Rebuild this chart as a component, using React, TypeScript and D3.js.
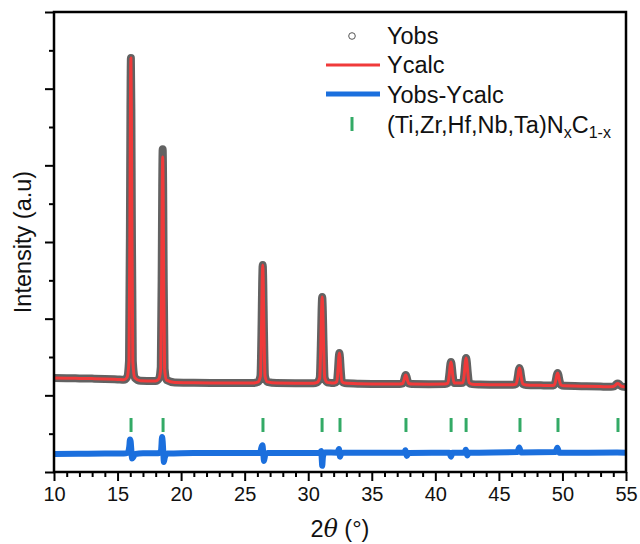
import React, { useEffect, useRef } from 'react'
import { select, scaleLinear, axisBottom, axisLeft, line, curveMonotoneX } from 'd3'

// 2theta grid of the refinement profile (deg)
const twoTheta = [
  10, 11, 12, 13, 14, 15, 15.5,
  15.75, 15.9, 15.975, 16.0125, 16.05, 16.0875, 16.125, 16.2, 16.35,
  16.8, 17.5, 18.0,
  18.25, 18.4, 18.475, 18.5125, 18.55, 18.5875, 18.625, 18.7, 18.85,
  19.5, 21, 23, 25, 25.7,
  26.06, 26.24, 26.33, 26.375, 26.42, 26.465, 26.51, 26.6, 26.78,
  27.5, 29, 30.4,
  30.7, 30.9, 31.0, 31.05, 31.1, 31.15, 31.2, 31.3, 31.5, 31.8,
  32.05, 32.25, 32.35, 32.4, 32.45, 32.5, 32.55, 32.65, 32.85,
  34, 36,
  37.19, 37.43, 37.55, 37.61, 37.67, 37.73, 37.79, 37.91, 38.15,
  39.5,
  40.75, 40.99, 41.11, 41.17, 41.23, 41.29, 41.35, 41.47, 41.82,
  42.18, 42.3, 42.36, 42.42, 42.48, 42.54, 42.66, 42.9,
  43.5, 45,
  46.1, 46.36, 46.49, 46.555, 46.62, 46.685, 46.75, 46.88, 47.14,
  48.3,
  49.1, 49.36, 49.49, 49.555, 49.62, 49.685, 49.75, 49.88, 50.14,
  51.5, 53,
  53.63, 53.99, 54.17, 54.26, 54.35, 54.44, 54.53, 54.71, 55,
]

const yObs = [
  1226, 1224, 1221, 1218, 1214, 1207, 1203,
  1237, 1447, 3297, 4727, 5400, 4727, 3297, 1447, 1230,
  1190, 1188, 1187,
  1216, 1368, 2699, 3726, 4210, 3726, 2699, 1350, 1199,
  1168, 1163, 1162, 1161, 1162,
  1176, 1253, 1931, 2454, 2700, 2454, 1931, 1253, 1176,
  1160, 1159, 1158,
  1169, 1226, 1720, 2103, 2283, 2103, 1720, 1226, 1169, 1162,
  1160, 1180, 1354, 1489, 1552, 1489, 1354, 1180, 1160,
  1152, 1148,
  1148, 1154, 1206, 1246, 1265, 1246, 1206, 1154, 1148,
  1146,
  1148, 1162, 1290, 1389, 1435, 1389, 1290, 1162, 1160,
  1164, 1315, 1432, 1487, 1432, 1315, 1164, 1146,
  1141, 1137,
  1137, 1148, 1246, 1321, 1357, 1321, 1246, 1148, 1136,
  1130,
  1127, 1135, 1208, 1264, 1291, 1264, 1208, 1135, 1124,
  1120, 1114,
  1111, 1114, 1132, 1148, 1155, 1148, 1132, 1114, 1110,
]

const yCalc = [
  1226, 1224, 1221, 1218, 1214, 1207, 1203,
  1237, 1447, 3297, 4727, 5400, 4727, 3297, 1447, 1230,
  1190, 1188, 1187,
  1214, 1360, 2647, 3641, 4109, 3641, 2647, 1345, 1199,
  1168, 1163, 1162, 1161, 1162,
  1176, 1253, 1931, 2454, 2700, 2454, 1931, 1253, 1176,
  1160, 1159, 1158,
  1169, 1226, 1720, 2103, 2283, 2103, 1720, 1226, 1169, 1162,
  1160, 1180, 1354, 1489, 1552, 1489, 1354, 1180, 1160,
  1152, 1148,
  1148, 1154, 1206, 1246, 1265, 1246, 1206, 1154, 1148,
  1146,
  1148, 1162, 1290, 1389, 1435, 1389, 1290, 1162, 1160,
  1164, 1315, 1432, 1487, 1432, 1315, 1164, 1146,
  1141, 1137,
  1137, 1148, 1246, 1321, 1357, 1321, 1246, 1148, 1136,
  1130,
  1127, 1135, 1208, 1264, 1291, 1264, 1208, 1135, 1124,
  1120, 1114,
  1111, 1114, 1132, 1148, 1155, 1148, 1132, 1114, 1110,
]

// difference curve (offset below the pattern)
const diffTheta = [
  10, 12, 14, 15.5, 15.8, 15.92, 15.98, 16.03, 16.08, 16.14, 16.22, 16.4,
  17, 18.2, 18.42, 18.5, 18.55, 18.6, 18.64, 18.72, 18.9,
  20, 24, 26.2, 26.32, 26.4, 26.46, 26.52, 26.62, 26.8,
  30.9, 31.02, 31.07, 31.1, 31.16, 31.3,
  32.3, 32.42, 32.5, 32.6, 32.8,
  37.55, 37.65, 37.75, 37.9,
  41.1, 41.23, 41.35, 42.3, 42.4, 42.5, 42.65,
  46.45, 46.6, 46.75, 49.45, 49.6, 49.75, 54.3, 55,
]
const yDiff = [
  235, 238, 241, 241, 252, 330, 425, 400, 300, 175, 190, 235,
  243, 245, 280, 455, 400, 250, 130, 190, 240,
  246, 248, 248, 320, 350, 250, 145, 225, 248,
  250, 275, 150, 80, 200, 255,
  252, 300, 200, 240, 250,
  250, 285, 210, 248,
  250, 200, 250, 255, 290, 215, 250,
  260, 320, 255, 260, 315, 250, 255, 250,
]

// Bragg reflections of the rock-salt phase
const braggPos = [16.06, 18.58, 26.44, 31.09, 32.5, 37.69, 41.24, 42.42, 46.66, 49.65, 54.37]
const braggSpan = [522, 704]

const xMajor = [10, 15, 20, 25, 30, 35, 40, 45, 50, 55]
const xMinor = [
  11, 12, 13, 14, 16, 17, 18, 19, 21, 22, 23, 24, 26, 27, 28, 29, 31, 32, 33, 34,
  36, 37, 38, 39, 41, 42, 43, 44, 46, 47, 48, 49, 51, 52, 53, 54,
]
const yMajor = [0, 1000, 2000, 3000, 4000, 5000, 6000]
const yMinor = [500, 1500, 2500, 3500, 4500, 5500]

const W = 640
const H = 544
const margin = { top: 12, right: 14, bottom: 72, left: 54 }
const FONT = '"Liberation Sans", Arial, sans-serif'
const RED = '#f03a3a'
const BLUE = '#1b6fdd'
const GREEN = '#33aa66'
const GRAY = '#555555'

export default function App() {
  const xAxisRef = useRef(null)
  const yAxisRef = useRef(null)

  const x = scaleLinear().domain([10, 55]).range([margin.left, W - margin.right])
  const y = scaleLinear().domain([0, 6000]).range([H - margin.bottom, margin.top])

  const profile = (vals) =>
    line()
      .x((_, i) => x(twoTheta[i]))
      .y((_, i) => y(vals[i]))
      .curve(curveMonotoneX)(vals)

  const diffPath = line()
    .x((_, i) => x(diffTheta[i]))
    .y((_, i) => y(yDiff[i]))
    .curve(curveMonotoneX)(yDiff)

  useEffect(() => {
    const gx = select(xAxisRef.current)
    gx.selectAll('*').remove()
    gx.append('g').call(axisBottom(x).tickValues(xMinor).tickSize(5).tickSizeOuter(0).tickFormat(() => ''))
    gx.append('g').call(axisBottom(x).tickValues(xMajor).tickSize(9).tickSizeOuter(0).tickPadding(6))
    gx.selectAll('.domain').remove()
    gx.selectAll('line').attr('stroke', '#000').attr('stroke-width', 2)
    gx.selectAll('text')
      .attr('font-family', FONT)
      .attr('font-size', 20)
      .attr('fill', '#111')

    const gy = select(yAxisRef.current)
    gy.selectAll('*').remove()
    gy.append('g').call(axisLeft(y).tickValues(yMinor).tickSize(5).tickSizeOuter(0).tickFormat(() => ''))
    gy.append('g').call(axisLeft(y).tickValues(yMajor).tickSize(9).tickSizeOuter(0).tickFormat(() => ''))
    gy.selectAll('.domain').remove()
    gy.selectAll('line').attr('stroke', '#000').attr('stroke-width', 2)
  }, [])

  const plotH = H - margin.bottom
  const plotW = W - margin.right

  return (
    <svg width={W} height={H} style={{ position: 'absolute', left: 0, top: 0, background: '#fff' }}>
      {/* observed points (dense, rendered as a band) */}
      <path d={profile(yObs)} fill="none" stroke={GRAY} strokeWidth={8} strokeLinejoin="round" strokeOpacity={0.92} />
      <path d={profile(yCalc)} fill="none" stroke={RED} strokeWidth={3} strokeLinejoin="round" />
      <path d={diffPath} fill="none" stroke={BLUE} strokeWidth={6} strokeLinejoin="round" />

      {braggPos.map((p) => (
        <line key={p} x1={x(p)} x2={x(p)} y1={y(braggSpan[0])} y2={y(braggSpan[1])} stroke={GREEN} strokeWidth={3} />
      ))}

      <g ref={xAxisRef} transform={`translate(0,${plotH})`} />
      <g ref={yAxisRef} transform={`translate(${margin.left},0)`} />

      <rect x={margin.left} y={margin.top} width={plotW - margin.left} height={plotH - margin.top}
        fill="none" stroke="#000" strokeWidth={2.5} />

      {/* legend */}
      <g fontFamily={FONT} fontSize={23.5} fill="#111">
        <circle cx={352} cy={36} r={3.3} fill="#fff" stroke={GRAY} strokeWidth={1} />
        <text x={387} y={44}>Yobs</text>
        <line x1={326} x2={380} y1={65} y2={65} stroke={RED} strokeWidth={3} />
        <text x={387} y={73}>Ycalc</text>
        <line x1={326} x2={380} y1={94} y2={94} stroke={BLUE} strokeWidth={5} />
        <text x={387} y={103}>Yobs-Ycalc</text>
        <line x1={352} x2={352} y1={117} y2={131} stroke={GREEN} strokeWidth={3} />
        <text x={387} y={133}>
          (Ti,Zr,Hf,Nb,Ta)N
          <tspan fontSize={16} dy={5}>x</tspan>
          <tspan dy={-5}>C</tspan>
          <tspan fontSize={16} dy={5}>1-x</tspan>
        </text>
      </g>

      {/* axis titles */}
      <text transform={`translate(31,${(margin.top + plotH) / 2}) rotate(-90)`} textAnchor="middle"
        fontFamily={FONT} fontSize={23.5} fill="#111">Intensity (a.u)</text>
      <text x={(margin.left + plotW) / 2} y={537} textAnchor="middle" fontFamily={FONT} fontSize={23.5} fill="#111">
        2<tspan fontStyle="italic" fontFamily='"DejaVu Serif", "Liberation Serif", serif'>θ</tspan> (°)
      </text>
    </svg>
  )
}
